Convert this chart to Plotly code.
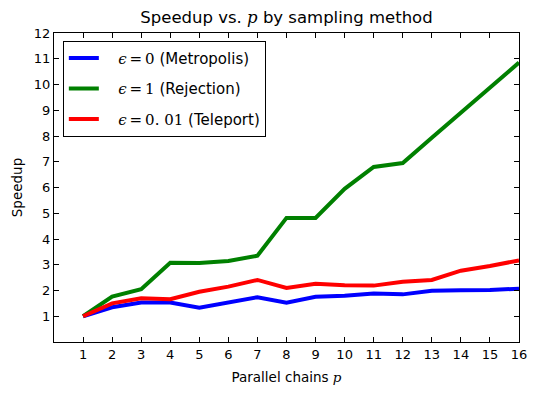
import plotly.graph_objects as go

chains = list(range(1, 17))
metropolis = [1.0, 1.35, 1.53, 1.53, 1.33, 1.54, 1.74, 1.53, 1.76, 1.80, 1.88, 1.85, 1.99, 2.01, 2.02, 2.07]
rejection = [1.0, 1.76, 2.05, 3.08, 3.07, 3.15, 3.35, 4.82, 4.82, 5.95, 6.8, 6.95, 7.93, 8.9, 9.88, 10.85]
teleport = [1.0, 1.50, 1.70, 1.66, 1.95, 2.15, 2.41, 2.10, 2.26, 2.20, 2.19, 2.34, 2.41, 2.77, 2.95, 3.17]

x_ticks = list(range(1, 17))
y_ticks = list(range(1, 13))

SERIF = "DejaVu Serif"
def m(s):
    return f"<span style='font-family:{SERIF}'><i>{s}</i></span>"

def eq(v):
    return f"{m('ϵ')}<span style='font-family:{SERIF}'>\u2009=\u2009{v}</span>"

pad = "\u00a0\u00a0\u00a0"
names = [
    f"{pad}{eq('0')} (Metropolis)",
    f"{pad}{eq('1')} (Rejection)",
    f"{pad}{eq('0. 01')} (Teleport)",
]
series = [metropolis, rejection, teleport]
colors = ["#0000ff", "#008000", "#ff0000"]

fig = go.Figure()
for i, (nm, ys, c) in enumerate(zip(names, series, colors)):
    fig.add_trace(go.Scatter(x=chains, y=ys, mode="lines", name=nm,
                             line=dict(color=c, width=4), legendgroup=f"g{i}"))

axis_common = dict(showline=True, linecolor="black", linewidth=1, mirror="allticks",
                   ticks="inside", ticklen=5, tickcolor="black", showgrid=False,
                   zeroline=False, automargin=False, tickfont=dict(size=13, color="black"))

# page body adds an 8px offset; compensate in size and margins
fig.update_layout(
    width=530, height=389,
    margin=dict(l=46, r=19, t=25, b=55),
    paper_bgcolor="white", plot_bgcolor="white",
    font=dict(family="DejaVu Sans", color="black", size=13),
    title=dict(text=f"Speedup vs. {m('p')} by sampling method", x=0.5, xanchor="center",
               xref="paper",
               y=1, yref="container", yanchor="top", pad=dict(t=3), font=dict(size=16.5)),
    xaxis=dict(range=[0, 16], tickvals=x_ticks,
               title=dict(text=f"Parallel chains {m('p')}", font=dict(size=13.5), standoff=11), **axis_common),
    yaxis=dict(range=[0, 12], tickvals=y_ticks,
               title=dict(text="Speedup", font=dict(size=13.5), standoff=8), **axis_common),
    legend=dict(x=0.019, y=0.975, xanchor="left", yanchor="top", bordercolor="black", borderwidth=1,
                bgcolor="white", font=dict(size=15), tracegroupgap=8),
    showlegend=True,
)

fig.write_html("out.html")
